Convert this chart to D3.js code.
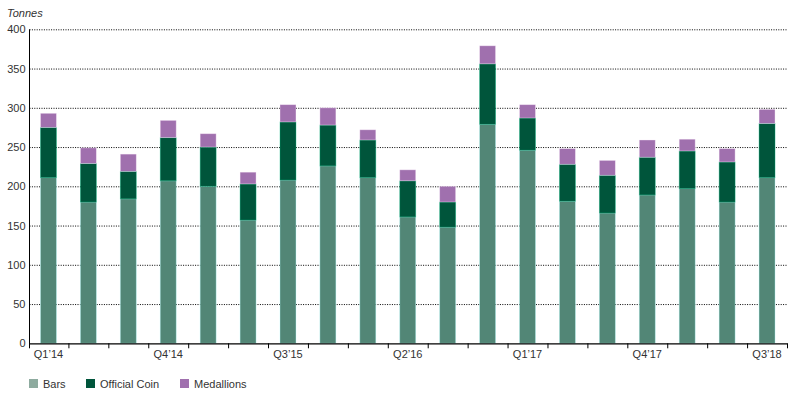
<!DOCTYPE html>
<html>
<head>
<meta charset="utf-8">
<script src="https://cdn.jsdelivr.net/npm/d3@7"></script>
<style>
	body { margin: 0; background: #fff; }
	text { font-family: "Liberation Sans", Arial, sans-serif; }
</style>
</head>
<body>
<div class="c-svg"></div>
<script>
//DATA
//-------------------------------------------------------------------------
const quarters = [
	"Q1’14", "Q2’14", "Q3’14", "Q4’14",
	"Q1’15", "Q2’15", "Q3’15", "Q4’15",
	"Q1’16", "Q2’16", "Q3’16", "Q4’16",
	"Q1’17", "Q2’17", "Q3’17", "Q4’17",
	"Q1’18", "Q2’18", "Q3’18"
];
const bars = [211, 180, 184, 207, 200, 157, 208, 226, 211, 161, 148, 279, 246, 181, 166, 189, 197, 180, 211];
const officialCoin = [64, 49, 35, 55, 50, 46, 74, 52, 48, 46, 32, 77, 41, 47, 48, 48, 48, 51, 69];
const medallions = [18, 20, 22, 22, 17, 15, 22, 22, 13, 14, 20, 23, 17, 20, 19, 22, 15, 17, 18];
const labelQuarters = ["Q1’14", "Q4’14", "Q3’15", "Q2’16", "Q1’17", "Q4’17", "Q3’18"];
const yTicks = [0, 50, 100, 150, 200, 250, 300, 350, 400];
const seriesNames = ["Bars", "Official Coin", "Medallions"];
const seriesKeys = ["bars", "coin", "medallions"];

//OPTS
//-------------------------------------------------------------------------
const opts = {
	width: 798,
	height: 396,
	left: 28.5,
	right: 787,
	top: 29.3,
	bottom: 343.3
};
const colors = ["#528676", "#00553b", "#a070ae"];
const legendColors = ["#8eab9f", "#00553b", "#a070ae"];

const svg = d3.select(".c-svg")
	.append("svg")
	.attr("width", opts.width)
	.attr("height", opts.height);

//SCALES
//-------------------------------------------------------------------------
const x = d3.scaleBand()
	.domain(quarters)
	.range([opts.left, opts.right])
	.paddingInner(0.6)
	.paddingOuter(0.3);

const xEdge = d3.scaleLinear()
	.domain([0, quarters.length])
	.range([opts.left, opts.right]);

const y = d3.scaleLinear()
	.domain([0, 400])
	.range([opts.bottom, opts.top]);

//table for stack
const table = quarters.map((q, i) => ({
	quarter: q,
	bars: bars[i],
	coin: officialCoin[i],
	medallions: medallions[i]
}));
const stacked = d3.stack().keys(seriesKeys)(table);

//GRID
//-------------------------------------------------------------------------
const grid = svg.append("g")
	.attr("class", "grid")
	.attr("transform", `translate(${opts.left + 1} 0)`)
	.call(d3.axisLeft(y)
		.tickValues(yTicks.filter(d => d > 0))
		.tickSize(-(opts.right - opts.left - 1))
		.tickFormat(""));
grid.select(".domain").remove();
grid.selectAll("line")
	.attr("stroke", "#000")
	.attr("stroke-width", 1)
	.attr("stroke-dasharray", "1,1.4");

//BARS
//-------------------------------------------------------------------------
svg.append("g")
	.selectAll("g")
	.data(stacked)
	.join("g")
	.attr("fill", (d, i) => colors[i])
	.attr("stroke", (d, i) => d3.color(colors[i]).brighter(2.2))
	.attr("stroke-opacity", 0.45)
	.attr("stroke-width", 0.8)
	.selectAll("rect")
	.data(d => d)
	.join("rect")
	.attr("x", d => x(d.data.quarter))
	.attr("width", x.bandwidth())
	.attr("y", d => y(d[1]))
	.attr("height", d => y(d[0]) - y(d[1]));

//AXIS
//-------------------------------------------------------------------------
const yAxis = svg.append("g")
	.attr("class", "axis y_axis")
	.attr("transform", `translate(${opts.left + 1} 0)`)
	.call(d3.axisLeft(y).tickValues(yTicks).tickSize(0).tickPadding(4));
yAxis.select(".domain").attr("stroke", "#000").attr("d", `M0,${opts.top}V${opts.bottom + 5}`);
yAxis.selectAll("text")
	.attr("fill", "#333")
	.style("font-size", "11px");

//x edges ticks
const xTicks = svg.append("g")
	.attr("class", "axis x_ticks")
	.attr("transform", `translate(0 ${opts.bottom})`)
	.call(d3.axisBottom(xEdge)
		.tickValues(d3.range(1, quarters.length + 1))
		.tickSize(5)
		.tickSizeOuter(0)
		.tickFormat(""));
xTicks.selectAll("line").attr("stroke", "#000");
xTicks.select(".domain").attr("stroke", "#000").attr("stroke-width", 1.2);

//x labels
const xAxis = svg.append("g")
	.attr("class", "axis x_axis")
	.attr("transform", `translate(0 ${opts.bottom})`)
	.call(d3.axisBottom(x)
		.tickValues(labelQuarters)
		.tickSize(0)
		.tickPadding(7));
xAxis.select(".domain").remove();
xAxis.selectAll("text")
	.attr("fill", "#333")
	.style("font-size", "11px");

//unit title
svg.append("text")
	.attr("x", 7)
	.attr("y", 17)
	.attr("fill", "#333")
	.style("font-size", "11px")
	.style("font-style", "italic")
	.text("Tonnes");

//LEGEND
//-------------------------------------------------------------------------
const legendX = [29, 86, 180];
const legend = svg.append("g")
	.attr("class", "legend")
	.selectAll("g")
	.data(seriesNames)
	.join("g")
	.attr("transform", (d, i) => `translate(${legendX[i]} 379)`);

legend.append("rect")
	.attr("width", 9)
	.attr("height", 9)
	.attr("fill", (d, i) => legendColors[i]);

legend.append("text")
	.attr("x", 14)
	.attr("y", 9)
	.attr("fill", "#333")
	.style("font-size", "11px")
	.text(d => d);
</script>
</body>
</html>
